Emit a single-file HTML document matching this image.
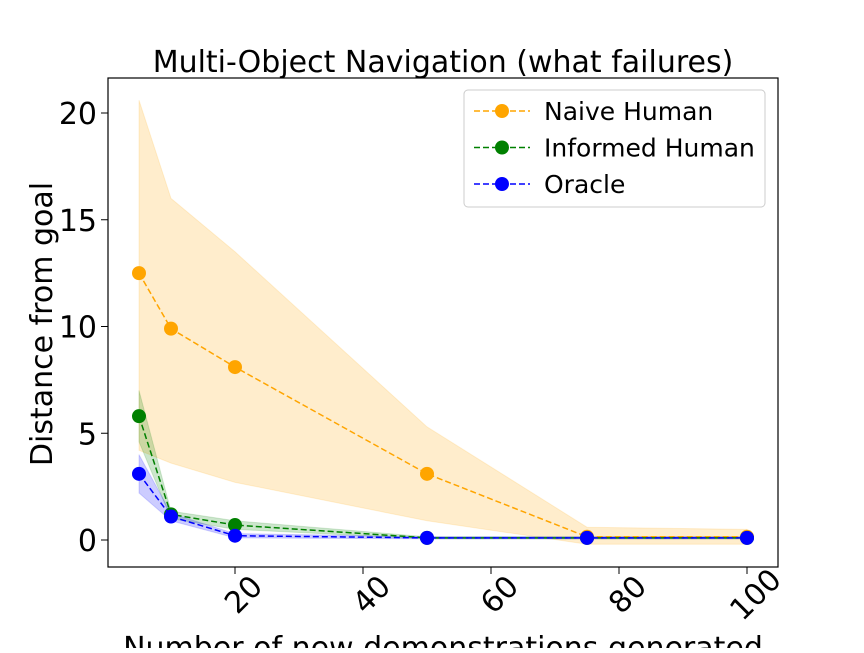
<!DOCTYPE html>
<html><head><meta charset="utf-8"><style>body{margin:0;background:#fff}svg{font-family:"DejaVu Sans","Liberation Sans",sans-serif}</style></head>
<body>
<svg id="c" width="864" height="648" viewBox="0 0 864 648">
<rect width="864" height="648" fill="#fff"/>
<g id="plot"></g>
<rect x="108" y="78" width="670" height="489" fill="none" stroke="#000" stroke-width="1.2"/>
<g id="ticks"></g>
<text x="443" y="72" font-size="30" text-anchor="middle">Multi-Object Navigation (what failures)</text>
<text transform="translate(52,324) rotate(-90)" font-size="30" text-anchor="middle">Distance from goal</text>
<text x="443" y="658" font-size="30" text-anchor="middle">Number of new demonstrations generated</text>
<g>
<rect x="464" y="90" width="301" height="117" rx="4" fill="#fff" fill-opacity="0.8" stroke="#ccc"/>
<g id="leg"></g>
</g>
</svg>
<script>
const xs=[5,10,20,50,75,100];
const naiveMean=[12.5,9.9,8.1,3.1,0.15,0.15];
const naiveHi=[20.6,16.0,13.5,5.3,0.6,0.5];
const naiveLo=[4.2,3.6,2.7,0.9,-0.2,-0.2];
const infMean=[5.8,1.2,0.7,0.1,0.1,0.1];
const infHi=[7.0,1.35,0.9,0.15,0.15,0.15];
const infLo=[4.6,1.0,0.5,0.05,0.05,0.05];
const orMean=[3.1,1.1,0.2,0.1,0.1,0.1];
const orHi=[4.0,1.25,0.3,0.15,0.15,0.15];
const orLo=[2.2,0.9,0.1,0.05,0.05,0.05];
const xTicks=[20,40,60,80,100];
const yTicks=[0,5,10,15,20];
const X=v=>107+v*6.4, Y=v=>540-v*21.35;
const NS='http://www.w3.org/2000/svg';
function mk(t,a,p){const e=document.createElementNS(NS,t);for(const k in a)e.setAttribute(k,a[k]);p.appendChild(e);return e;}
const plot=document.getElementById('plot');
const series=[['naive','#ffa500',naiveMean,naiveHi,naiveLo,0.2],['informed','#008000',infMean,infHi,infLo,0.2],['oracle','#0000ff',orMean,orHi,orLo,0.2]];
series.forEach(([n,c,m,h,l,op])=>{
 const pts=xs.map((x,i)=>X(x)+','+Y(h[i])).concat(xs.map((x,i)=>X(x)+','+Y(l[i])).reverse()).join(' ');
 const b=mk('polygon',{points:pts,fill:c,'fill-opacity':op,stroke:c,'stroke-opacity':0.15},plot);
 
 
});
series.forEach(([n,c,m])=>{
 const ln=mk('polyline',{points:xs.map((x,i)=>X(x)+','+Y(m[i])).join(' '),fill:'none',stroke:c,'stroke-width':1.5,'stroke-dasharray':'6,3'},plot);
 
 
 xs.forEach((x,i)=>{const p=mk('circle',{cx:X(x),cy:Y(m[i]),r:7,fill:c},plot);
 
 });
});
const tk=document.getElementById('ticks');
xTicks.forEach(v=>{mk('line',{x1:X(v),x2:X(v),y1:567,y2:574,stroke:'#000'},tk);
 const t=mk('text',{x:X(v)+8,y:594,'font-size':30,'text-anchor':'middle',transform:`rotate(-45 ${X(v)+8} 594)`,dy:11},tk);t.textContent=v;
 
 });
yTicks.forEach(v=>{mk('line',{x1:101,x2:108,y1:Y(v),y2:Y(v),stroke:'#000'},tk);
 const t=mk('text',{x:97,y:Y(v)+11,'font-size':30,'text-anchor':'end'},tk);t.textContent=v;
 
 });
const leg=document.getElementById('leg');
[['Naive Human','#ffa500'],['Informed Human','#008000'],['Oracle','#0000ff']].forEach(([s,c],i)=>{
 const y=111+i*36.5;
 mk('line',{x1:474,x2:530,y1:y,y2:y,stroke:c,'stroke-width':1.5,'stroke-dasharray':'6,3'},leg);
 mk('circle',{cx:502,cy:y,r:7,fill:c},leg);
 const t=mk('text',{x:544,y:y+9,'font-size':25},leg);t.textContent=s;
 
 
});
</script>
</body></html>
